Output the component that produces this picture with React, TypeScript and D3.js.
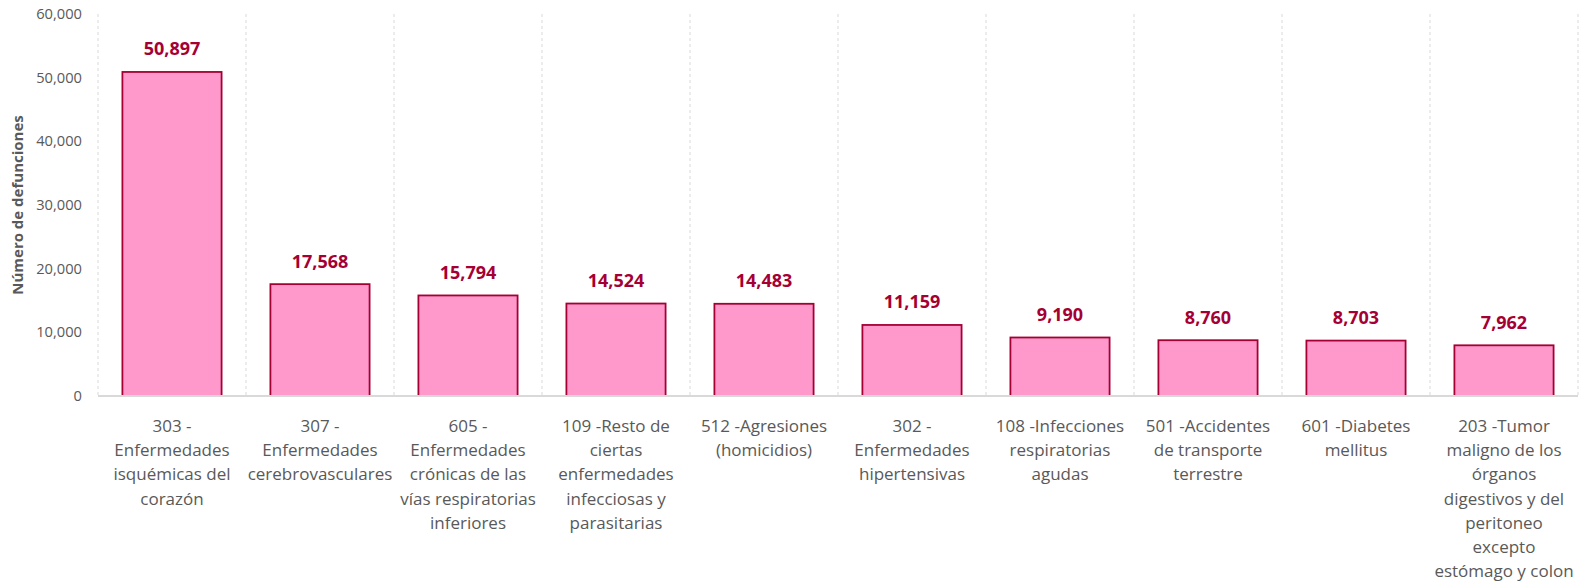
import React from "react";
import * as d3 from "d3";

const categories: string[] = [
  "303 -|Enfermedades|isquémicas del|corazón",
  "307 -|Enfermedades|cerebrovasculares",
  "605 -|Enfermedades|crónicas de las|vías respiratorias|inferiores",
  "109 -Resto de|ciertas|enfermedades|infecciosas y|parasitarias",
  "512 -Agresiones|(homicidios)",
  "302 -|Enfermedades|hipertensivas",
  "108 -Infecciones|respiratorias|agudas",
  "501 -Accidentes|de transporte|terrestre",
  "601 -Diabetes|mellitus",
  "203 -Tumor|maligno de los|órganos|digestivos y del|peritoneo|excepto|estómago y colon",
];
const values: number[] = [50897, 17568, 15794, 14524, 14483, 11159, 9190, 8760, 8703, 7962];
const yTicks: number[] = [0, 10000, 20000, 30000, 40000, 50000, 60000];
const yTitle = "Número de defunciones";

const W = 1589;
const H = 584;
const M = { left: 98, right: 11, top: 14, bottom: 188 };
const FONT = "'Open Sans', 'Noto Sans', sans-serif";

export default function App() {
  const x = d3
    .scaleBand<number>()
    .domain(d3.range(categories.length))
    .range([M.left, W - M.right])
    .paddingInner(0.33)
    .paddingOuter(0.165);
  const y = d3.scaleLinear().domain([0, 60000]).range([H - M.bottom, M.top]);
  const fmt = d3.format(",");
  const step = x.step();
  const bounds = d3.range(categories.length + 1).map((i) => M.left + i * step);

  return (
    <div style={{ position: "fixed", left: 0, top: 0 }}>
      <svg width={W} height={H} style={{ display: "block", background: "#fff" }}>
        {bounds.map((bx, i) => (
          <line
            key={"g" + i}
            x1={bx}
            x2={bx}
            y1={y(60000)}
            y2={y(0)}
            stroke="#d9d9d9"
            strokeWidth={1}
            strokeDasharray="3,3"
          />
        ))}
        {yTicks.map((t) => (
          <text
            key={"t" + t}
            x={M.left - 16}
            y={y(t)}
            dy="0.35em"
            textAnchor="end"
            fontFamily={FONT}
            fontSize={14.7}
            fill="#595959"
          >
            {fmt(t)}
          </text>
        ))}
        <text
          transform={`translate(23,${(y(0) + y(60000)) / 2}) rotate(-90)`}
          textAnchor="middle"
          fontFamily={FONT}
          fontSize={15}
          fontWeight="bold"
          fill="#595959"
        >
          {yTitle}
        </text>
        {values.map((v, i) => (
          <rect
            key={"b" + i}
            x={x(i)!}
            y={y(v)}
            width={x.bandwidth()}
            height={y(0) - y(v)}
            fill="#FF99CC"
            stroke="#A50034"
            strokeWidth={1.8}
          />
        ))}
        <line x1={M.left} x2={W - M.right} y1={y(0)} y2={y(0)} stroke="#d9d9d9" strokeWidth={2} />
        {values.map((v, i) => (
          <text
            key={"v" + i}
            x={x(i)! + x.bandwidth() / 2}
            y={y(v) - 16.5}
            textAnchor="middle"
            fontFamily={FONT}
            fontSize={18}
            fontWeight="bold"
            fill="#A50034"
          >
            {fmt(v)}
          </text>
        ))}
        {categories.map((c, i) => (
          <text
            key={"c" + i}
            x={x(i)! + x.bandwidth() / 2}
            y={432}
            textAnchor="middle"
            fontFamily={FONT}
            fontSize={17}
            fill="#595959"
          >
            {c.split("|").map((ln, j) => (
              <tspan key={j} x={x(i)! + x.bandwidth() / 2} y={432 + j * 24.2}>
                {ln}
              </tspan>
            ))}
          </text>
        ))}
      </svg>
    </div>
  );
}
